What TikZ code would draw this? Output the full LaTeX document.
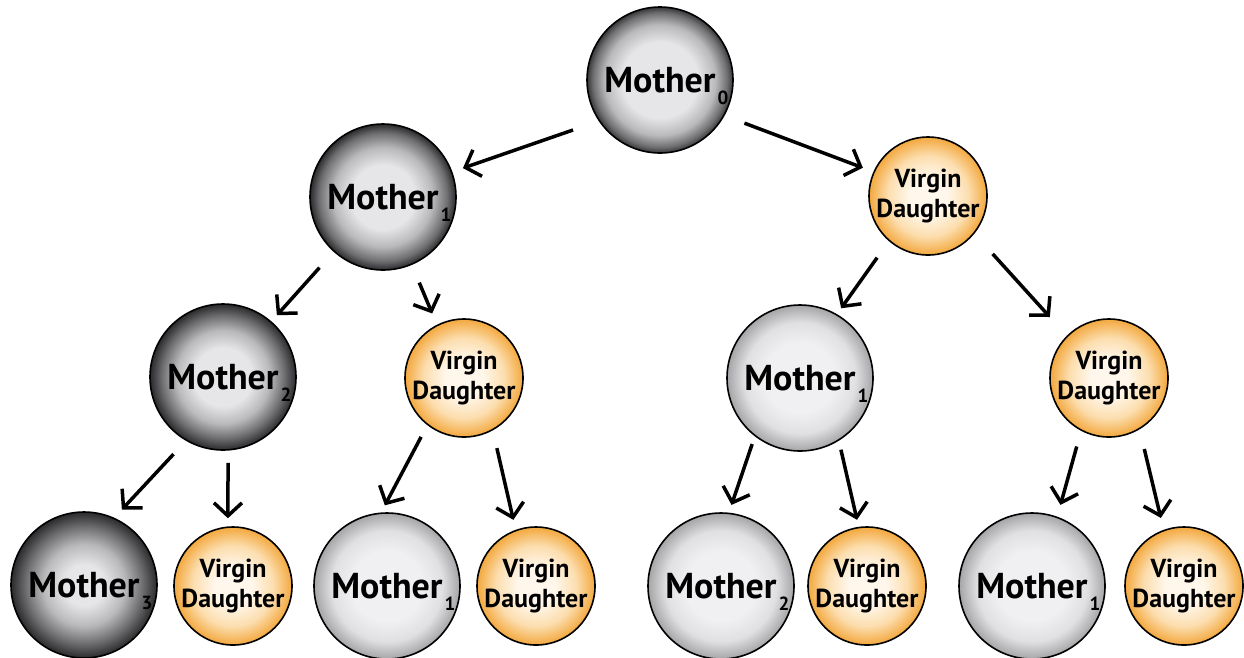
\documentclass[tikz,border=0pt]{standalone}
\usepackage{fontspec}
\setmainfont{PT Sans}
\usetikzlibrary{arrows.meta}
\definecolor{gc}{RGB}{230,230,233}
\definecolor{gcl}{RGB}{240,240,242}
\definecolor{gm}{RGB}{185,185,187}
\definecolor{gd}{RGB}{110,110,112}
\definecolor{ge}{RGB}{55,55,57}
\definecolor{gee}{RGB}{42,42,44}
\definecolor{lm}{RGB}{224,224,226}
\definecolor{le}{RGB}{165,165,168}
\definecolor{oc}{RGB}{255,247,235}
\definecolor{om}{RGB}{252,222,175}
\definecolor{oe}{RGB}{243,168,62}
\pgfdeclareradialshading{shzero}{\pgfpoint{0bp}{0bp}}{color(0bp)=(gc); color(13bp)=(gc); color(19bp)=(gm); color(23bp)=(gd); color(25bp)=(ge); color(50bp)=(ge)}
\pgfdeclareradialshading{shone}{\pgfpoint{0bp}{0bp}}{color(0bp)=(gc); color(11bp)=(gc); color(17bp)=(gm); color(22bp)=(gd); color(25bp)=(gee); color(50bp)=(gee)}
\pgfdeclareradialshading{shtwo}{\pgfpoint{0bp}{0bp}}{color(0bp)=(gc); color(10bp)=(gc); color(16bp)=(gm); color(21bp)=(gd); color(25bp)=(gee); color(50bp)=(gee)}
\pgfdeclareradialshading{shthree}{\pgfpoint{0bp}{0bp}}{color(0bp)=(gc); color(7bp)=(gc); color(14bp)=(gm); color(20bp)=(gd); color(25bp)=(gee); color(50bp)=(gee)}
\pgfdeclareradialshading{shlight}{\pgfpoint{0bp}{0bp}}{color(0bp)=(gcl); color(12bp)=(gcl); color(19bp)=(lm); color(25bp)=(le); color(50bp)=(le)}
\pgfdeclareradialshading{shvd}{\pgfpoint{0bp}{0bp}}{color(0bp)=(oc); color(8bp)=(oc); color(17bp)=(om); color(25bp)=(oe); color(50bp)=(oe)}
\newcommand\momtext[1]{Mother\rlap{\smash{\kern2pt\raisebox{-12pt}{\fontsize{19}{19}\selectfont\bfseries #1}}}}
\tikzset{
  mom/.style={circle, draw=black, line width=1.6pt, minimum size=146pt, inner sep=0pt, outer sep=0pt,
    font=\fontsize{36}{40}\selectfont\bfseries},
  vdnode/.style={circle, draw=black, line width=1.6pt, minimum size=118pt, inner sep=0pt, outer sep=0pt,
    shading=shvd, align=center, font=\fontsize{26}{30}\selectfont\bfseries},
  arr/.style={line width=3.5pt, -{Straight Barb[length=13pt,width=28pt]}}
}
\begin{document}
\begin{tikzpicture}[x=1pt,y=-1pt]
\useasboundingbox (0,0) rectangle (1244,657);
% level 0
\node[mom, shading=shzero] (m0) at (660,80) {\momtext{0}};
% level 1
\node[mom, shading=shone] (m1a) at (383,197) {\momtext{1}};
\node[vdnode] (vd1) at (928,196) {Virgin\\Daughter};
% level 2
\node[mom, shading=shtwo] (m2) at (223,377) {\momtext{2}};
\node[vdnode] (vd2a) at (464,378) {Virgin\\Daughter};
\node[mom, shading=shlight] (m1b) at (800,378) {\momtext{1}};
\node[vdnode] (vd2b) at (1109,378) {Virgin\\Daughter};
% level 3
\node[mom, shading=shthree] (m3) at (84,585) {\momtext{3}};
\node[vdnode] (vd3a) at (233,586) {Virgin\\Daughter};
\node[mom, shading=shlight] (m1c) at (387,586) {\momtext{1}};
\node[vdnode] (vd3b) at (536,586) {Virgin\\Daughter};
\node[mom, shading=shlight] (m2b) at (721,586) {\momtext{2}};
\node[vdnode] (vd3c) at (867,586) {Virgin\\Daughter};
\node[mom, shading=shlight] (m1d) at (1032,586) {\momtext{1}};
\node[vdnode] (vd3d) at (1184,586) {Virgin\\Daughter};
% arrows
\draw[arr, shorten <=28pt, shorten >=12pt] (m0.214) -- (m1a.20);
\draw[arr, shorten <=22pt, shorten >=12pt] (m0.331) -- (vd1.156);
\draw[arr, shorten <=22pt, shorten >=9pt] (m1a.228) -- (m2.49);
\draw[arr, shorten <=20pt, shorten >=13pt] (m1a.293) -- (vd2a.117);
\draw[arr, shorten <=21pt, shorten >=8pt] (vd1.229) -- (m1b.60);
\draw[arr, shorten <=28pt, shorten >=26pt] (vd1.321) -- (vd2b.135);
\draw[arr, shorten <=19pt, shorten >=12pt] (m2.240) -- (m3.66);
\draw[arr, shorten <=13pt, shorten >=9pt] (m2.274) -- (vd3a.95);
\draw[arr, shorten <=14pt, shorten >=9pt] (vd2a.232) -- (m1c.95);
\draw[arr, shorten <=19pt, shorten >=11pt] (vd2a.299) -- (vd3b.110);
\draw[arr, shorten <=9pt, shorten >=9pt] (m1b.232) -- (m2b.84);
\draw[arr, shorten <=10pt, shorten >=8pt] (m1b.302) -- (vd3c.98);
\draw[arr, shorten <=17pt, shorten >=13pt] (vd2b.242) -- (m1d.70);
\draw[arr, shorten <=21pt, shorten >=13pt] (vd2b.301) -- (vd3d.110);
\end{tikzpicture}
\end{document}
